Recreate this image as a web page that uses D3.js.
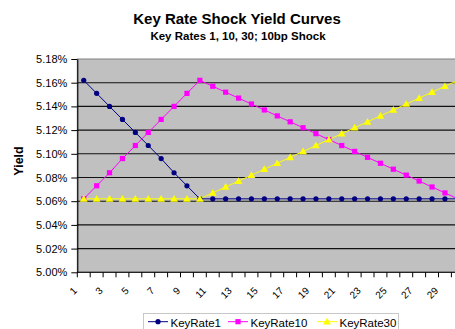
<!DOCTYPE html>
<html>
<head>
<meta charset="utf-8">
<script src="https://cdn.jsdelivr.net/npm/d3@7"></script>
<style>
  html, body { margin: 0; padding: 0; background: #fff; overflow: hidden; }
  svg { display: block; font-family: "Liberation Sans", Arial, sans-serif; }
</style>
</head>
<body>
<div id="chart"></div>
<script>
// Maturities (years) on the category axis
const maturities = [1,2,3,4,5,6,7,8,9,10,11,12,13,14,15,16,17,18,19,20,21,22,23,24,25,26,27,28,29,30];

// Yield curves (%) after a 10bp shock at each key rate
const keyRate1 = [5.162,5.151,5.140,5.129,5.118,5.107,5.096,5.084,5.073,5.062,
                  5.062,5.062,5.062,5.062,5.062,5.062,5.062,5.062,5.062,5.062,
                  5.062,5.062,5.062,5.062,5.062,5.062,5.062,5.062,5.062,5.062];
const keyRate10 = [5.062,5.073,5.084,5.096,5.107,5.118,5.129,5.140,5.151,5.162,
                   5.157,5.152,5.147,5.142,5.137,5.132,5.127,5.122,5.117,5.112,
                   5.107,5.102,5.097,5.092,5.087,5.082,5.077,5.072,5.067,5.062];
const keyRate30 = [5.062,5.062,5.062,5.062,5.062,5.062,5.062,5.062,5.062,5.062,
                   5.067,5.072,5.077,5.082,5.087,5.092,5.097,5.102,5.107,5.112,
                   5.117,5.122,5.127,5.132,5.137,5.142,5.147,5.152,5.157,5.162];

const yTicks = [5.00,5.02,5.04,5.06,5.08,5.10,5.12,5.14,5.16,5.18];
const xLabels = [1,3,5,7,9,11,13,15,17,19,21,23,25,27,29];

const seriesNames = ["KeyRate1","KeyRate10","KeyRate30"];
const seriesValues = [keyRate1, keyRate10, keyRate30];
const seriesColors = ["#000080","#ff00ff","#ffff00"];

const W = 470, H = 329;
const plot = { left: 77.3, right: 464.3, top: 59, bottom: 272.3 };

const svg = d3.select("#chart").append("svg")
  .attr("width", W).attr("height", H);

const x = d3.scaleBand().domain(maturities).range([plot.left, plot.right]).padding(0);
const y = d3.scaleLinear().domain([5.00, 5.18]).range([plot.bottom, plot.top]);
const cx = d => x(d) + x.bandwidth() / 2;

// Plot background
svg.append("rect")
  .attr("x", plot.left).attr("y", plot.top)
  .attr("width", plot.right - plot.left).attr("height", plot.bottom - plot.top)
  .attr("fill", "#c0c0c0").attr("stroke", "#808080").attr("stroke-width", 1);

// Horizontal gridlines
svg.append("g").selectAll("line")
  .data(yTicks.filter(v => v > 5.00 && v < 5.18))
  .join("line")
  .attr("x1", plot.left).attr("x2", plot.right)
  .attr("y1", d => y(d)).attr("y2", d => y(d))
  .attr("stroke", "#111").attr("stroke-width", 1.1);

// Y axis
const yAxis = d3.axisLeft(y)
  .tickValues(yTicks)
  .tickFormat(d => d3.format(".2f")(d) + "%")
  .tickSize(6).tickSizeOuter(0).tickPadding(4);
const gy = svg.append("g").attr("transform", `translate(${plot.left},0)`).call(yAxis);
gy.select(".domain").attr("stroke", "#000").attr("stroke-width", 1.1);
gy.selectAll(".tick line").attr("stroke", "#000");
gy.selectAll(".tick text")
  .attr("font-family", "Liberation Sans, Arial, sans-serif")
  .attr("font-size", 11).attr("fill", "#000");

// X axis line and category boundary ticks
const gx = svg.append("g");
gx.append("line")
  .attr("x1", plot.left).attr("x2", plot.right)
  .attr("y1", plot.bottom).attr("y2", plot.bottom)
  .attr("stroke", "#000").attr("stroke-width", 1.1);
const boundaries = maturities.map(m => x(m)).concat([x(maturities[maturities.length - 1]) + x.bandwidth()]);
gx.selectAll("line.tk").data(boundaries).join("line")
  .attr("class", "tk")
  .attr("x1", d => d).attr("x2", d => d)
  .attr("y1", plot.bottom).attr("y2", plot.bottom + 5)
  .attr("stroke", "#000");
gx.selectAll("text").data(xLabels).join("text")
  .attr("transform", d => `translate(${cx(d) - 6},${plot.bottom + 19}) rotate(-45)`)
  .attr("text-anchor", "end")
  .attr("font-size", 10)
  .attr("fill", "#000")
  .text(d => d);

// Series lines
const line = d3.line().x((d, i) => cx(maturities[i])).y(d => y(d));
seriesValues.forEach((vals, s) => {
  svg.append("path")
    .datum(vals)
    .attr("d", line)
    .attr("fill", "none")
    .attr("stroke", seriesColors[s])
    .attr("stroke-width", 1);
});

// Markers: dot, square, triangle
function drawMarker(g, s, px, py) {
  if (s === 0) {
    g.append("circle").attr("cx", px).attr("cy", py).attr("r", 2.6).attr("fill", seriesColors[s]);
  } else if (s === 1) {
    g.append("rect").attr("x", px - 2.6).attr("y", py - 2.6).attr("width", 5.2).attr("height", 5.2)
      .attr("fill", seriesColors[s]);
  } else {
    g.append("path").attr("d", d3.symbol(d3.symbolTriangle, 26)())
      .attr("transform", `translate(${px},${py + 0.6})`)
      .attr("fill", seriesColors[s]);
  }
}
seriesValues.forEach((vals, s) => {
  const g = svg.append("g");
  vals.forEach((v, i) => drawMarker(g, s, cx(maturities[i]), y(v)));
});

// Titles
svg.append("text").attr("x", 237).attr("y", 24).attr("text-anchor", "middle")
  .attr("font-size", 15).attr("font-weight", "bold").text("Key Rate Shock Yield Curves");
svg.append("text").attr("x", 238).attr("y", 40).attr("text-anchor", "middle")
  .attr("font-size", 11.5).attr("font-weight", "bold").text("Key Rates 1, 10, 30; 10bp Shock");
svg.append("text")
  .attr("transform", `translate(22.5,161) rotate(-90)`)
  .attr("text-anchor", "middle")
  .attr("font-size", 12.5).attr("font-weight", "bold").text("Yield");

// Legend
const legend = svg.append("g");
legend.append("rect").attr("x", 143.5).attr("y", 313.5).attr("width", 255).attr("height", 30)
  .attr("fill", "#fff").attr("stroke", "#c8c8c8").attr("stroke-width", 1);
const legendX = [148, 228, 317];
seriesNames.forEach((name, s) => {
  const lx = legendX[s];
  legend.append("line").attr("x1", lx).attr("x2", lx + 20).attr("y1", 321.7).attr("y2", 321.7)
    .attr("stroke", seriesColors[s]).attr("stroke-width", 1);
  drawMarker(legend, s, lx + 10, 321.7);
  legend.append("text").attr("x", lx + 22.5).attr("y", 326.5).attr("font-size", 11.5).text(name);
});
</script>
</body>
</html>
